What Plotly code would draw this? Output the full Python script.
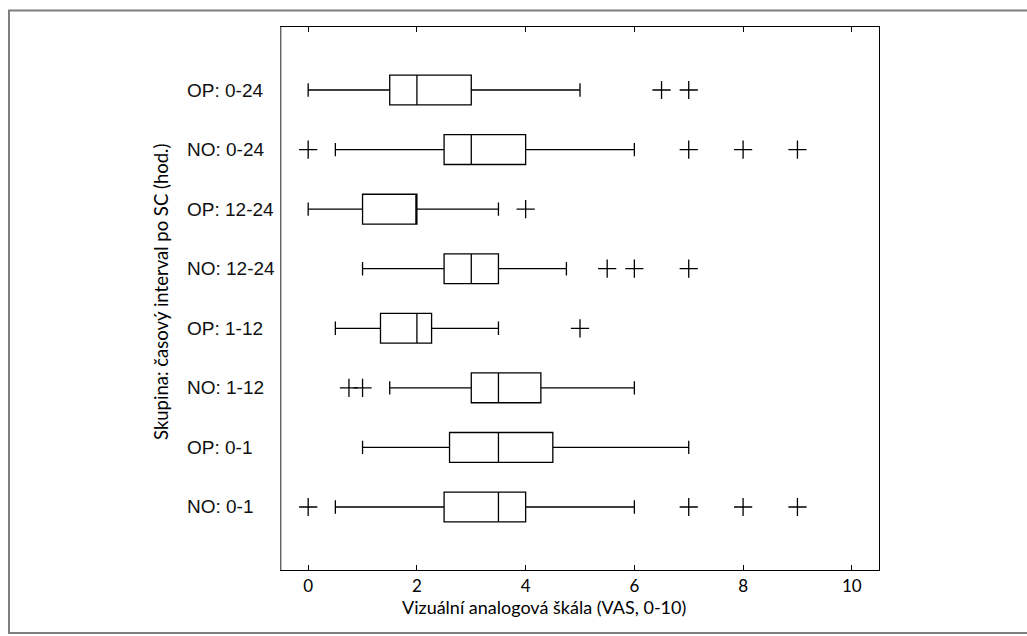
import plotly.graph_objects as go

# Groups (bottom to top) and their VAS box-plot statistics
groups = ["NO: 0-1", "OP: 0-1", "NO: 1-12", "OP: 1-12",
          "NO: 12-24", "OP: 12-24", "NO: 0-24", "OP: 0-24"]
positions = [1, 2, 3, 4, 5, 6, 7, 8]

whisker_low = [0.5, 1.0, 1.5, 0.5, 1.0, 0.0, 0.5, 0.0]
q1 = [2.5, 2.6, 3.0, 1.33, 2.5, 1.0, 2.5, 1.5]
median = [3.5, 3.5, 3.5, 2.0, 3.0, 2.0, 3.0, 2.0]
q3 = [4.0, 4.5, 4.28, 2.27, 3.5, 2.0, 4.0, 3.0]
whisker_high = [6.0, 7.0, 6.0, 3.5, 4.75, 3.5, 6.0, 5.0]

outliers = [
    [0.0, 7.0, 8.0, 9.0],
    [],
    [0.75, 1.0],
    [5.0],
    [5.5, 6.0, 7.0],
    [4.0],
    [0.0, 7.0, 8.0, 9.0],
    [6.5, 7.0],
]

x_ticks = [0, 2, 4, 6, 8, 10]

# Layout geometry (pixels)
W, H = 1027, 636
L, R, T, B = 281, 1027 - 879, 27, 636 - 570
PW, PH = W - L - R, H - T - B


def px_x(p):
    return (p - L) / PW


def px_y(p):
    return (H - B - p) / PH


fig = go.Figure()

fig.add_trace(go.Box(
    y=positions,
    q1=q1,
    median=median,
    q3=q3,
    lowerfence=whisker_low,
    upperfence=whisker_high,
    orientation="h",
    width=0.5,
    whiskerwidth=0.45,
    boxpoints=False,
    fillcolor="white",
    line=dict(color="black", width=1.3),
    showlegend=False,
))

ox, oy = [], []
for pos, vals in zip(positions, outliers):
    for v in vals:
        ox.append(v)
        oy.append(pos)

fig.add_trace(go.Scatter(
    x=ox, y=oy, mode="markers",
    marker=dict(symbol="cross-thin", size=13,
                line=dict(color="black", width=1.3)),
    showlegend=False,
))

# Left-aligned group labels
annotations = [
    dict(text=g, xref="paper", yref="y", x=px_x(185), y=p,
         xanchor="left", yanchor="middle", showarrow=False,
         font=dict(family="Liberation Sans", size=19, color="#111111"))
    for g, p in zip(groups, positions)
]
annotations += [
    dict(text="Vizuální analogová škála (VAS, 0-10)",
         xref="paper", yref="paper",
         x=px_x(544), y=px_y(607),
         xanchor="center", yanchor="middle",
         showarrow=False,
         font=dict(family="Lato", size=18, color="black")),
    dict(text="Skupina: časový interval po SC (hod.)",
         xref="paper", yref="paper",
         x=px_x(161), y=px_y(292),
         xanchor="center", yanchor="middle",
         textangle=-90,
         showarrow=False,
         font=dict(family="Lato", size=18.5, color="black")),
]

fig.update_layout(
    width=W, height=H,
    margin=dict(l=L, r=R, t=T, b=B),
    paper_bgcolor="white",
    plot_bgcolor="white",
    xaxis=dict(
        range=[-0.5, 10.5],
        tickvals=x_ticks,
        ticks="inside", ticklen=5, tickcolor="black",
        showline=True, linecolor="black", linewidth=1.3,
        mirror="allticks",
        showgrid=False, zeroline=False,
        tickfont=dict(family="Lato", size=17, color="black"),
    ),
    yaxis=dict(
        range=[-0.058, 9.058],
        tickvals=positions,
        showticklabels=False,
        ticks="",
        showline=True, linecolor="black", linewidth=1.3,
        mirror=True,
        showgrid=False, zeroline=False,
    ),
    annotations=annotations,
    shapes=[
        # outer figure frame
        dict(type="rect", xref="paper", yref="paper",
             x0=px_x(9), x1=px_x(1040), y0=px_y(633), y1=px_y(10.5),
             line=dict(color="#7f7f7f", width=2), fillcolor="rgba(0,0,0,0)",
             layer="below"),
        # lighter left spine of the axes box
        dict(type="line", xref="paper", yref="paper",
             x0=0, x1=0, y0=0, y1=1,
             line=dict(color="#9a9a9a", width=1.3), layer="above"),
    ],
)

fig.write_html("out.html")
